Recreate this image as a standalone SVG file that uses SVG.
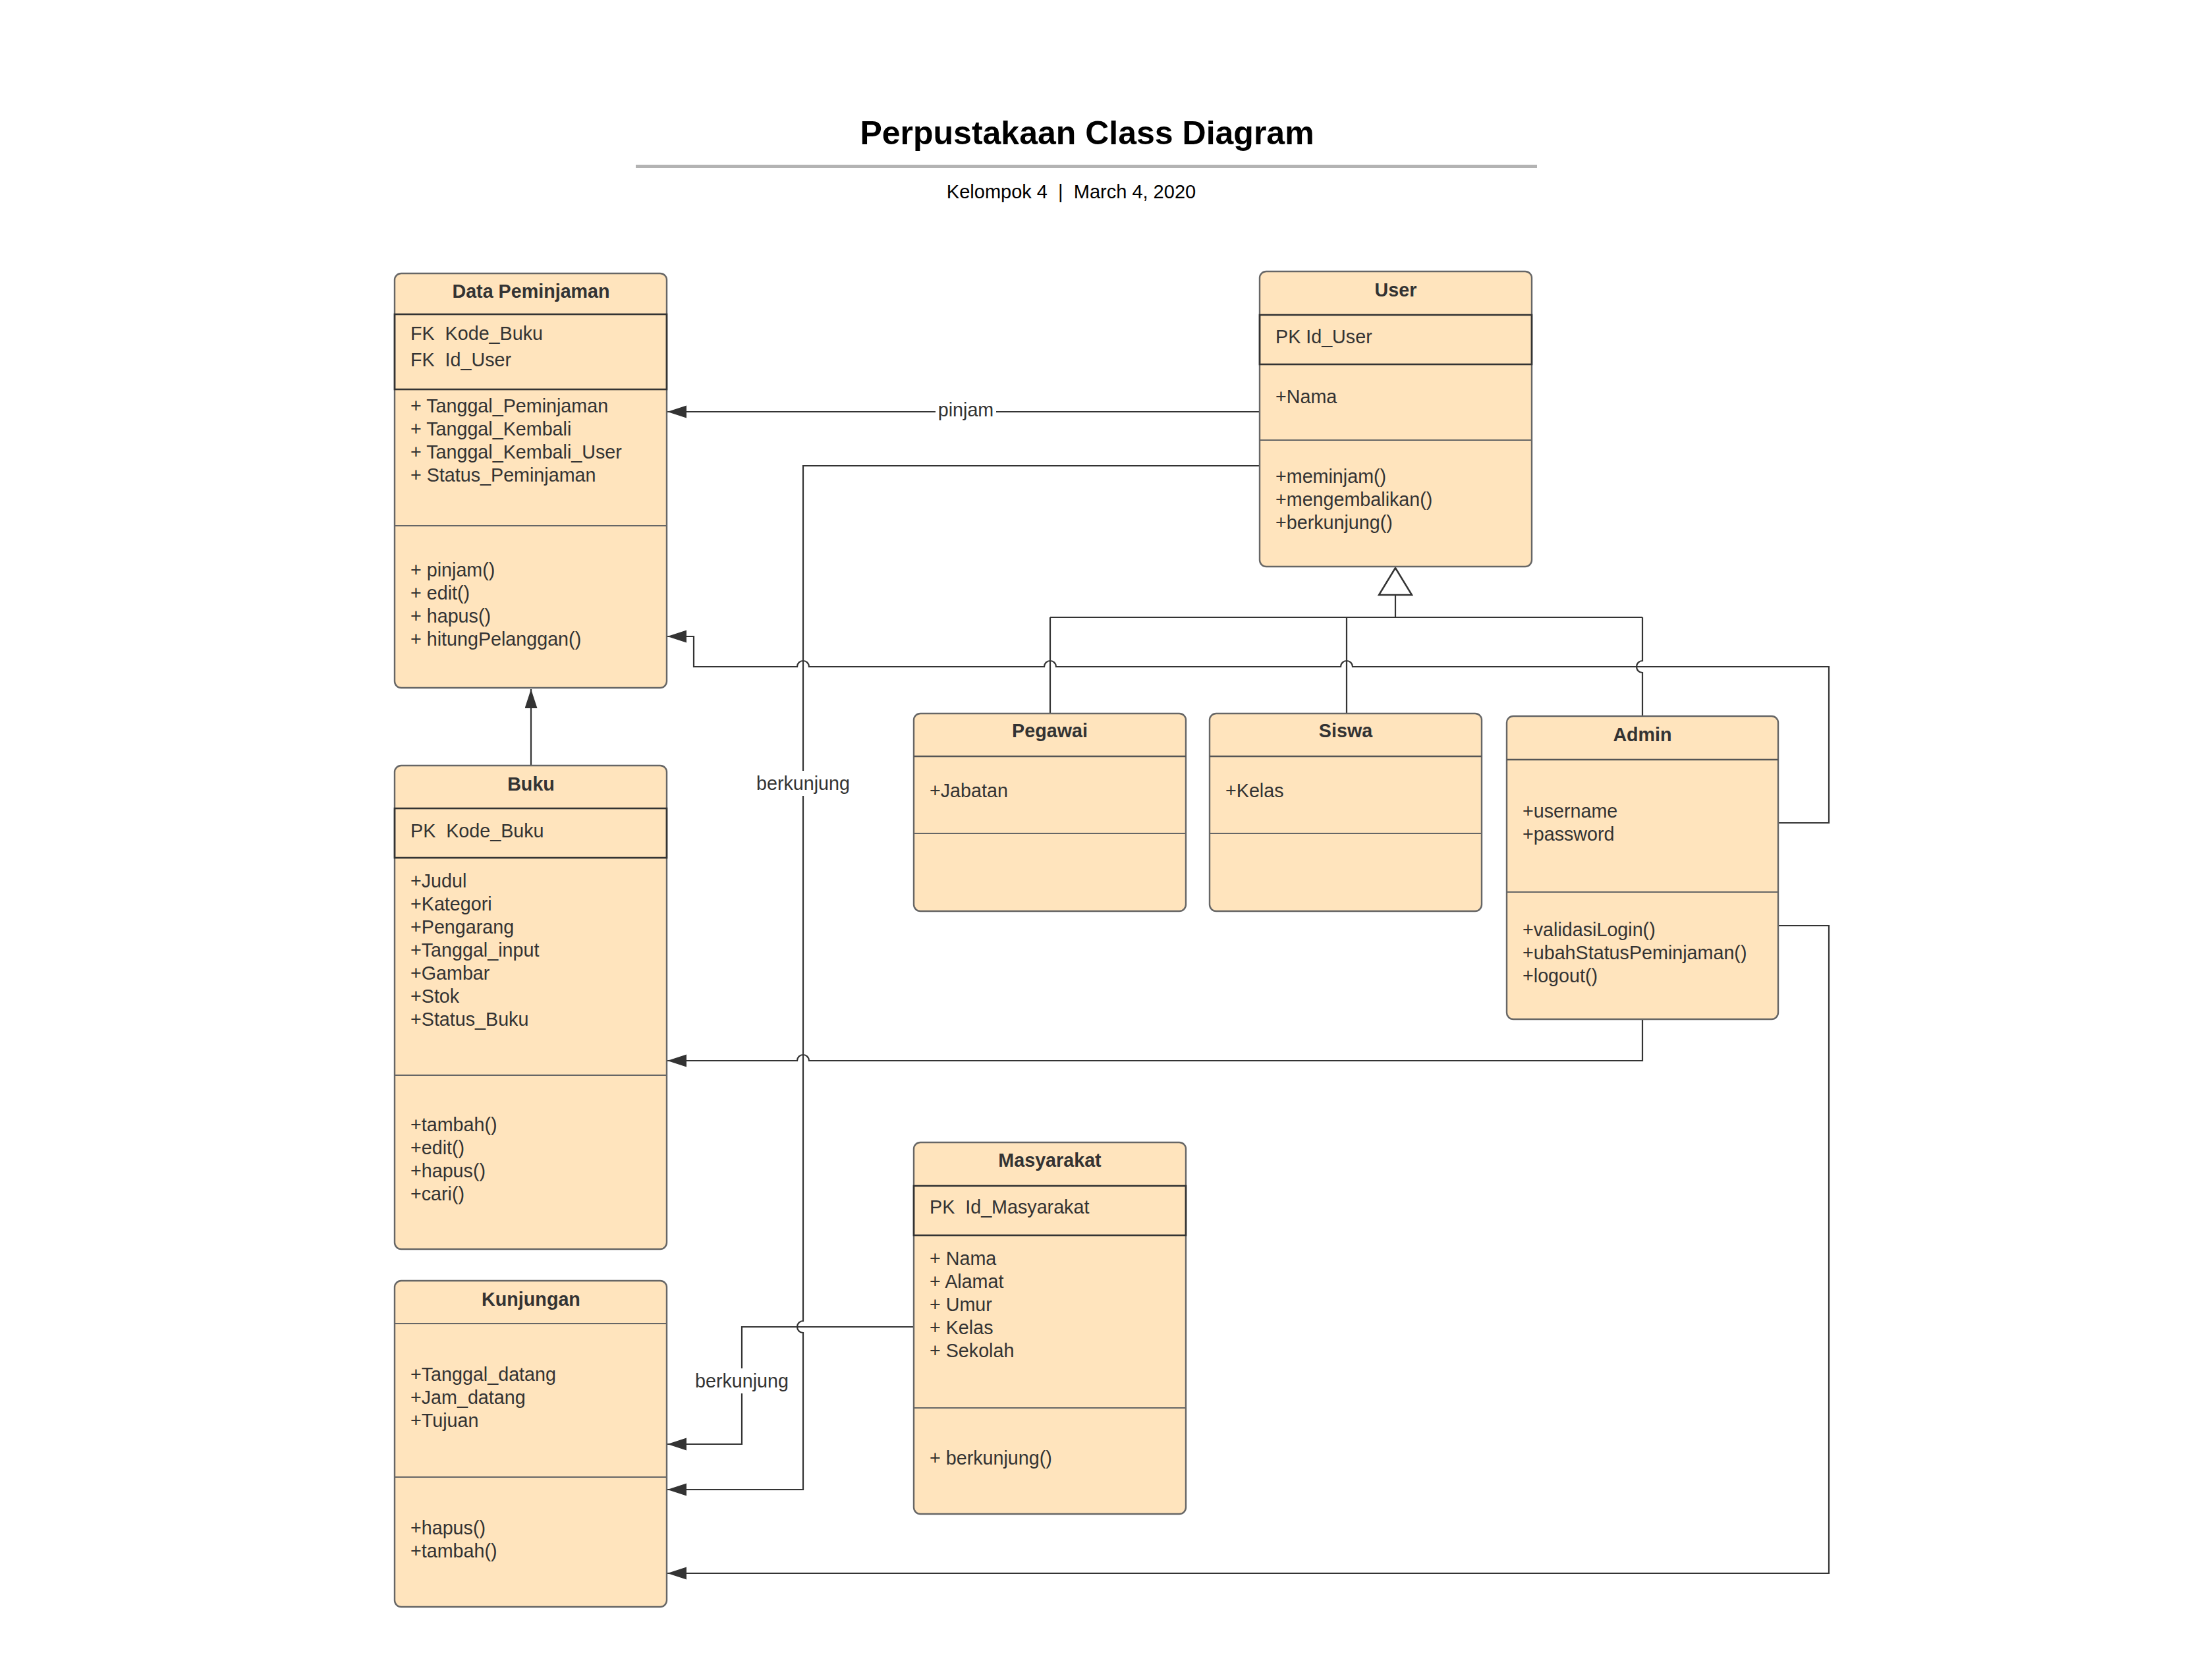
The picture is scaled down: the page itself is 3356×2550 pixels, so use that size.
<svg xmlns="http://www.w3.org/2000/svg" width="3356" height="2550" viewBox="0 0 3356 2550">
<defs>
<style>
.box{fill:#ffe4bd;stroke:#666;stroke-width:2.4}
.key{fill:none;stroke:#333;stroke-width:2.6}
.dv{stroke:#666;stroke-width:2}
.hd{stroke:#555;stroke-width:2.6}
.t{font-family:"Liberation Sans",Arial,sans-serif;font-size:28.7px;fill:#333}
.b{font-weight:bold;text-anchor:middle}
.c{fill:none;stroke:#333;stroke-width:2.2}
.bg{fill:#fff}
</style>
<marker id="arr" markerUnits="userSpaceOnUse" markerWidth="30" markerHeight="20" refX="29" refY="9.5" orient="auto">
<path d="M0,0 L29,9.5 L0,19 Z" fill="#333"/>
</marker>
</defs>
<rect x="0" y="0" width="3356" height="2550" fill="#fff"/>

<g id="header">
<text x="1650" y="219" style="font-family:'Liberation Sans',Arial,sans-serif;font-size:50px;font-weight:bold;fill:#000" text-anchor="middle">Perpustakaan Class Diagram</text>
<rect x="965" y="250" width="1368" height="5" fill="#b3b3b3"/>
<text x="1626" y="301" xml:space="preserve" style="font-family:'Liberation Sans',Arial,sans-serif;font-size:29px;fill:#000" text-anchor="middle">Kelompok 4  |  March 4, 2020</text>
</g>

<g id="connectors">
<!-- pinjam -->
<path class="c" d="M1912,625 L1013,625" marker-end="url(#arr)"/>
<rect class="bg" x="1420" y="604" width="92" height="40"/>
<text class="t" x="1466" y="632" text-anchor="middle">pinjam</text>
<!-- Admin to Data Peminjaman -->
<path class="c" d="M2699,1249 L2776,1249 L2776,1012 L2053,1012 A9,9 0 0 0 2035,1012 L1603,1012 A9,9 0 0 0 1585,1012 L1228,1012 A9,9 0 0 0 1210,1012 L1053,1012 L1053,966 L1013,966" marker-end="url(#arr)"/>
<!-- generalization -->
<path class="c" d="M2118,903 L2118,937 M1594,937 L2493,937 M1594,937 L1594,1083 M2044,937 L2044,1083 M2493,937 L2493,1003 A9,9 0 0 0 2493,1021 L2493,1087"/>
<polygon points="2118,862 2093,903 2143,903" fill="#fff" stroke="#333" stroke-width="2.5"/>
<!-- User to Kunjungan (berkunjung) -->
<path class="c" d="M1912,707 L1219,707 L1219,2005 A9,9 0 0 0 1219,2023 L1219,2261 L1013,2261" marker-end="url(#arr)"/>
<rect class="bg" x="1145" y="1170" width="148" height="38"/>
<text class="t" x="1219" y="1199" text-anchor="middle">berkunjung</text>
<!-- Admin to Buku -->
<path class="c" d="M2493,1547 L2493,1610 L1228,1610 A9,9 0 0 0 1210,1610 L1013,1610" marker-end="url(#arr)"/>
<!-- Masyarakat to Kunjungan -->
<path class="c" d="M1387,2014 L1126,2014 L1126,2192 L1013,2192" marker-end="url(#arr)"/>
<rect class="bg" x="1051" y="2077" width="150" height="38"/>
<text class="t" x="1126" y="2106" text-anchor="middle">berkunjung</text>
<!-- Admin to Kunjungan -->
<path class="c" d="M2699,1405 L2776,1405 L2776,2388 L1013,2388" marker-end="url(#arr)"/>
<!-- Buku to Data Peminjaman -->
<path class="c" d="M806,1162 L806,1046" marker-end="url(#arr)"/>
</g>

<g id="data-peminjaman">
<rect class="box" x="599" y="415" width="413" height="629" rx="10"/>
<rect class="key" x="599" y="477" width="413" height="114"/>
<line class="dv" x1="599" y1="798" x2="1012" y2="798"/>
<text class="t b" x="806" y="452">Data Peminjaman</text>
<text class="t" x="623" y="516" xml:space="preserve">FK  Kode_Buku</text>
<text class="t" x="623" y="556" xml:space="preserve">FK  Id_User</text>
<text class="t" x="623" y="626">+ Tanggal_Peminjaman</text>
<text class="t" x="623" y="661">+ Tanggal_Kembali</text>
<text class="t" x="623" y="696">+ Tanggal_Kembali_User</text>
<text class="t" x="623" y="731">+ Status_Peminjaman</text>
<text class="t" x="623" y="875">+ pinjam()</text>
<text class="t" x="623" y="910">+ edit()</text>
<text class="t" x="623" y="945">+ hapus()</text>
<text class="t" x="623" y="980">+ hitungPelanggan()</text>
</g>

<g id="buku">
<rect class="box" x="599" y="1162" width="413" height="734" rx="10"/>
<rect class="key" x="599" y="1227" width="413" height="75"/>
<line class="dv" x1="599" y1="1632" x2="1012" y2="1632"/>
<text class="t b" x="806" y="1200">Buku</text>
<text class="t" x="623" y="1271" xml:space="preserve">PK  Kode_Buku</text>
<text class="t" x="623" y="1347">+Judul</text>
<text class="t" x="623" y="1382">+Kategori</text>
<text class="t" x="623" y="1417">+Pengarang</text>
<text class="t" x="623" y="1452">+Tanggal_input</text>
<text class="t" x="623" y="1487">+Gambar</text>
<text class="t" x="623" y="1522">+Stok</text>
<text class="t" x="623" y="1557">+Status_Buku</text>
<text class="t" x="623" y="1717">+tambah()</text>
<text class="t" x="623" y="1752">+edit()</text>
<text class="t" x="623" y="1787">+hapus()</text>
<text class="t" x="623" y="1822">+cari()</text>
</g>

<g id="kunjungan">
<rect class="box" x="599" y="1944" width="413" height="495" rx="10"/>
<line class="dv" x1="599" y1="2009" x2="1012" y2="2009"/>
<line class="dv" x1="599" y1="2242" x2="1012" y2="2242"/>
<text class="t b" x="806" y="1982">Kunjungan</text>
<text class="t" x="623" y="2096">+Tanggal_datang</text>
<text class="t" x="623" y="2131">+Jam_datang</text>
<text class="t" x="623" y="2166">+Tujuan</text>
<text class="t" x="623" y="2329">+hapus()</text>
<text class="t" x="623" y="2364">+tambah()</text>
</g>

<g id="user">
<rect class="box" x="1912" y="412" width="413" height="448" rx="10"/>
<rect class="key" x="1912" y="478" width="413" height="75"/>
<line class="dv" x1="1912" y1="668" x2="2325" y2="668"/>
<text class="t b" x="2118.5" y="450">User</text>
<text class="t" x="1936" y="521">PK Id_User</text>
<text class="t" x="1936" y="612">+Nama</text>
<text class="t" x="1936" y="733">+meminjam()</text>
<text class="t" x="1936" y="768">+mengembalikan()</text>
<text class="t" x="1936" y="803">+berkunjung()</text>
</g>

<g id="pegawai">
<rect class="box" x="1387" y="1083" width="413" height="300" rx="10"/>
<line class="hd" x1="1387" y1="1148" x2="1800" y2="1148"/>
<line class="dv" x1="1387" y1="1265" x2="1800" y2="1265"/>
<text class="t b" x="1593.5" y="1119">Pegawai</text>
<text class="t" x="1411" y="1210">+Jabatan</text>
</g>

<g id="siswa">
<rect class="box" x="1836" y="1083" width="413" height="300" rx="10"/>
<line class="hd" x1="1836" y1="1148" x2="2249" y2="1148"/>
<line class="dv" x1="1836" y1="1265" x2="2249" y2="1265"/>
<text class="t b" x="2042.5" y="1119">Siswa</text>
<text class="t" x="1860" y="1210">+Kelas</text>
</g>

<g id="admin">
<rect class="box" x="2287" y="1087" width="412" height="460" rx="10"/>
<line class="hd" x1="2287" y1="1153" x2="2699" y2="1153"/>
<line class="dv" x1="2287" y1="1354" x2="2699" y2="1354"/>
<text class="t b" x="2493" y="1125">Admin</text>
<text class="t" x="2311" y="1241">+username</text>
<text class="t" x="2311" y="1276">+password</text>
<text class="t" x="2311" y="1421">+validasiLogin()</text>
<text class="t" x="2311" y="1456">+ubahStatusPeminjaman()</text>
<text class="t" x="2311" y="1491">+logout()</text>
</g>

<g id="masyarakat">
<rect class="box" x="1387" y="1734" width="413" height="564" rx="10"/>
<rect class="key" x="1387" y="1800" width="413" height="75"/>
<line class="dv" x1="1387" y1="2137" x2="1800" y2="2137"/>
<text class="t b" x="1593.5" y="1771">Masyarakat</text>
<text class="t" x="1411" y="1842" xml:space="preserve">PK  Id_Masyarakat</text>
<text class="t" x="1411" y="1920">+ Nama</text>
<text class="t" x="1411" y="1955">+ Alamat</text>
<text class="t" x="1411" y="1990">+ Umur</text>
<text class="t" x="1411" y="2025">+ Kelas</text>
<text class="t" x="1411" y="2060">+ Sekolah</text>
<text class="t" x="1411" y="2223">+ berkunjung()</text>
</g>
</svg>
